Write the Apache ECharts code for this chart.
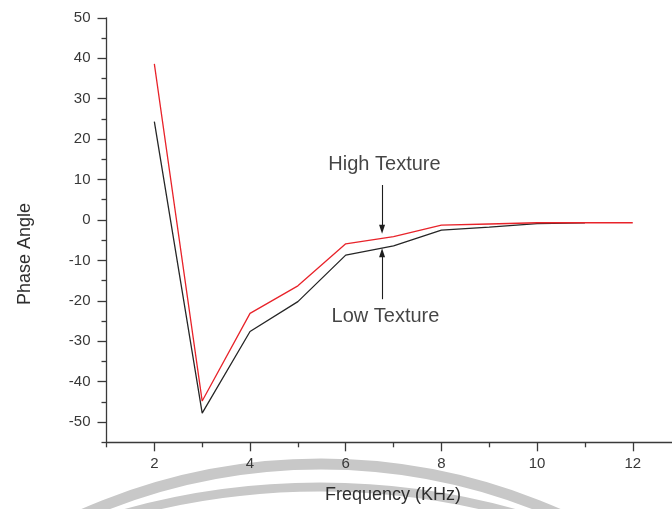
<!DOCTYPE html>
<html>
<head>
<meta charset="utf-8">
<script src="https://cdn.jsdelivr.net/npm/echarts@6/dist/echarts.min.js"></script>
<style>
  html, body { margin: 0; padding: 0; background: #ffffff; }
  #chart { width: 672px; height: 509px; }
</style>
</head>
<body>
<div id="chart"></div>
<script>
// Frequency sweep (kHz) and measured phase angle for both textures
const freq = [2, 3, 4, 5, 6, 7, 8, 9, 10, 11, 12];
const highTexture = [38.6, -44.8, -23.1, -16.3, -5.9, -4.1, -1.3, -1.0, -0.7, -0.7, -0.7];
const lowTexture = [24.3, -47.8, -27.6, -20.2, -8.7, -6.4, -2.5, -1.8, -0.9, -0.75];

// Axis ticks
const xMajorTicks = [2, 4, 6, 8, 10, 12];
const xMinorTicks = [1, 3, 5, 7, 9, 11];
const yMajorTicks = [-50, -40, -30, -20, -10, 0, 10, 20, 30, 40, 50];
const yMinorTicks = [-55, -45, -35, -25, -15, -5, 5, 15, 25, 35, 45];

// Callout texts and their arrows (data coordinates)
const calloutLabels = [[6.81, 13.6, 'High Texture'], [6.83, -24.0, 'Low Texture']];
const calloutArrows = [
  [[6.76, 8.65], [6.76, -2.3]],
  [[6.76, -19.6], [6.76, -8.1]]
];

const pairs = (xs, ys) => ys.map((y, i) => [xs[i], y]);

const axisColor = '#3a3a3a';
const labelColor = '#383838';
const fontFamily = '"Liberation Sans", Arial, sans-serif';

const grid = { left: 106.5, right: 0, top: 17.8, bottom: 66.7 };

const chart = echarts.init(document.getElementById('chart'), null, { renderer: 'canvas' });

chart.setOption({
  backgroundColor: '#ffffff',
  animation: false,
  grid: grid,
  xAxis: [
    {
      type: 'value', min: 1, max: 12.82,
      axisLine: { show: true, onZero: false, lineStyle: { color: axisColor, width: 1.3 } },
      axisTick: { show: true, inside: false, length: 9, customValues: xMajorTicks, lineStyle: { color: axisColor, width: 1.3 } },
      axisLabel: { show: true, customValues: xMajorTicks, margin: 14, color: labelColor, fontSize: 15, fontFamily: fontFamily },
      splitLine: { show: false }
    },
    {
      type: 'value', min: 1, max: 12.82, position: 'bottom',
      axisLine: { show: false, onZero: false },
      axisTick: { show: true, inside: false, length: 5, customValues: xMinorTicks, lineStyle: { color: axisColor, width: 1.3 } },
      axisLabel: { show: false },
      splitLine: { show: false }
    }
  ],
  yAxis: [
    {
      type: 'value', min: -55, max: 50,
      axisLine: { show: true, onZero: false, lineStyle: { color: axisColor, width: 1.3 } },
      axisTick: { show: true, inside: false, length: 9, customValues: yMajorTicks, lineStyle: { color: axisColor, width: 1.3 } },
      axisLabel: { show: true, customValues: yMajorTicks, margin: 16, color: labelColor, fontSize: 15, fontFamily: fontFamily },
      splitLine: { show: false }
    },
    {
      type: 'value', min: -55, max: 50, position: 'left',
      axisLine: { show: false, onZero: false },
      axisTick: { show: true, inside: false, length: 5, customValues: yMinorTicks, lineStyle: { color: axisColor, width: 1.3 } },
      axisLabel: { show: false },
      splitLine: { show: false }
    }
  ],
  graphic: [
    // faint grey rings behind the lower part of the figure
    { type: 'circle', silent: true, z: -10, shape: { cx: 321, cy: 1052, r: 588 },
      style: { fill: 'none', stroke: '#c8c8c8', lineWidth: 11 } },
    { type: 'circle', silent: true, z: -10, shape: { cx: 320, cy: 1214, r: 727 },
      style: { fill: 'none', stroke: '#c8c8c8', lineWidth: 9 } },
    // axis titles
    { type: 'text', x: 25, y: 254, rotation: Math.PI / 2, z: 10,
      style: { text: 'Phase Angle', fill: '#2e2e2e', fontSize: 18, fontFamily: fontFamily, align: 'center', verticalAlign: 'middle' } },
    { type: 'text', x: 393, y: 495, z: 10,
      style: { text: 'Frequency (KHz)', fill: '#2e2e2e', fontSize: 18, fontFamily: fontFamily, align: 'center', verticalAlign: 'middle' } }
  ],
  series: [
    {
      name: 'Low Texture', type: 'line', xAxisIndex: 0, yAxisIndex: 0,
      data: pairs(freq, lowTexture),
      showSymbol: false, symbol: 'none',
      lineStyle: { color: '#262626', width: 1.3 },
      z: 3
    },
    {
      name: 'High Texture', type: 'line', xAxisIndex: 0, yAxisIndex: 0,
      data: pairs(freq, highTexture),
      showSymbol: false, symbol: 'none',
      lineStyle: { color: '#e8232a', width: 1.3 },
      z: 4,
      markLine: {
        silent: true,
        symbol: ['none', 'triangle'],
        symbolSize: [6, 9],
        label: { show: false },
        lineStyle: { color: '#1e1e1e', width: 1.1, type: 'solid' },
        data: calloutArrows.map(a => [{ coord: a[0] }, { coord: a[1] }])
      }
    },
    {
      name: 'callouts', type: 'scatter', xAxisIndex: 0, yAxisIndex: 0,
      data: calloutLabels,
      symbolSize: 2,
      itemStyle: { color: 'rgba(0,0,0,0)' },
      silent: true,
      label: {
        show: true, position: 'inside',
        formatter: p => p.value[2],
        color: '#151515', textBorderWidth: 0, fontSize: 20, fontFamily: fontFamily
      },
      z: 5
    }
  ]
});
</script>
</body>
</html>
